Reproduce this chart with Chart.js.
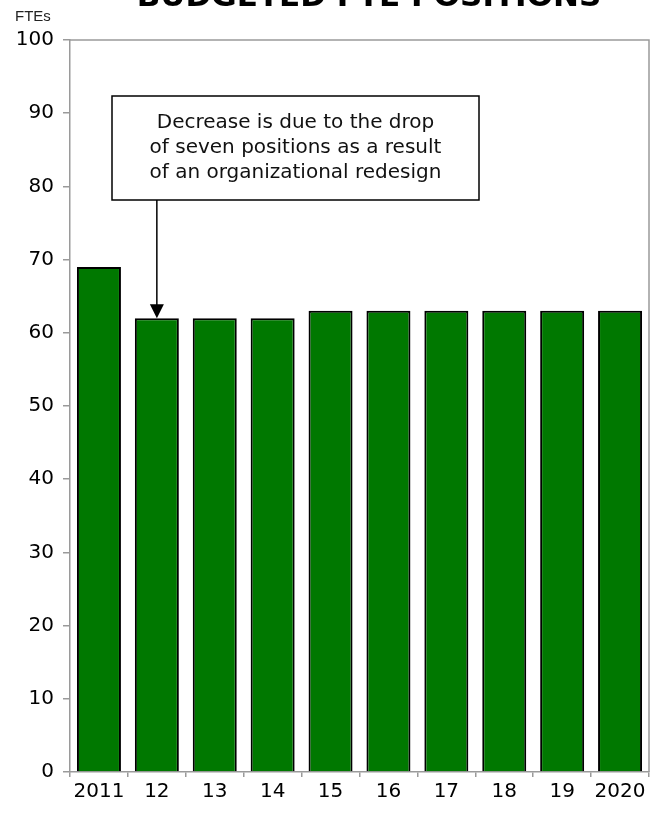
<!DOCTYPE html>
<html lang="en">
<head>
  <meta charset="UTF-8">
  <title>Budgeted FTE Positions</title>
  <script src="https://cdn.jsdelivr.net/npm/chart.js"></script>
  <style>
    html, body {
      margin: 0;
      padding: 0;
      background: #fff;
      overflow: hidden;
    }
    #wrap {
      width: 659px;
      height: 813px;
    }
  </style>
</head>
<body>
  <div id="wrap"><canvas id="chart" width="659" height="813"></canvas></div>

  <script>
    // chart data
    const years = ['2011', '12', '13', '14', '15', '16', '17', '18', '19', '2020'];
    const ftes = [69, 62, 62, 62, 63, 63, 63, 63, 63, 63];
    const yTicks = [0, 10, 20, 30, 40, 50, 60, 70, 80, 90, 100];
    const noteLines = ['Decrease is due to the drop', 'of seven positions as a result', 'of an organizational redesign'];
    const noteTarget = 1; // index of the bar the arrow points to

    const axisGrey = '#9a9a9a';
    const font = 'DejaVu Sans';

    // title (clipped at top), unit label, plot frame, callout box + arrow
    const extras = {
      id: 'extras',
      afterDraw(chart) {
        const c = chart.ctx;
        const a = chart.chartArea;
        const x = chart.scales.x, y = chart.scales.y;
        c.save();

        c.strokeStyle = axisGrey;
        c.lineWidth = 1.5;
        c.beginPath();
        c.moveTo(a.left, a.top);
        c.lineTo(a.right, a.top);
        c.lineTo(a.right, a.bottom);
        c.stroke();

        c.fillStyle = '#000';
        c.font = 'bold 31px "' + font + '"';
        c.textAlign = 'center';
        c.textBaseline = 'alphabetic';
        c.fillText('BUDGETED FTE POSITIONS', 369, 6);

        c.font = '15px "Liberation Sans"';
        c.textAlign = 'left';
        c.fillStyle = '#222';
        c.fillText('FTEs', 15, 21);

        // callout box
        const bx = 112, by = 96, bw = 367, bh = 104;
        c.fillStyle = '#fff';
        c.fillRect(bx, by, bw, bh);
        c.strokeStyle = '#000';
        c.lineWidth = 1.5;
        c.strokeRect(bx, by, bw, bh);
        c.fillStyle = '#111';
        c.font = '20px "' + font + '"';
        c.textAlign = 'center';
        c.textBaseline = 'middle';
        noteLines.forEach((t, i) => c.fillText(t, bx + bw / 2, 123 + i * 25));

        // arrow to the 2012 bar
        const ax = x.getPixelForValue(noteTarget);
        const ay = y.getPixelForValue(ftes[noteTarget]);
        c.beginPath();
        c.moveTo(ax, by + bh);
        c.lineTo(ax, ay - 12);
        c.stroke();
        c.fillStyle = '#000';
        c.beginPath();
        c.moveTo(ax - 7, ay - 14);
        c.lineTo(ax + 7, ay - 14);
        c.lineTo(ax, ay);
        c.closePath();
        c.fill();

        c.restore();
      }
    };

    const ctx = document.getElementById('chart').getContext('2d');
    const chart = new Chart(ctx, {
      type: 'bar',
      data: {
        labels: years,
        datasets: [{
          data: ftes,
          backgroundColor: '#007800',
          borderColor: '#000',
          borderWidth: 2,
          barPercentage: 0.76,
          categoryPercentage: 1.0
        }]
      },
      options: {
        responsive: false,
        animation: false,
        layout: { padding: { top: 40, right: 10, left: 0, bottom: 0 } },
        plugins: {
          legend: { display: false },
          tooltip: { enabled: false }
        },
        scales: {
          x: {
            offset: true,
            grid: {
              offset: true,
              drawOnChartArea: false,
              tickLength: 5,
              color: axisGrey,
              lineWidth: 1.5
            },
            border: { color: axisGrey, width: 1.5 },
            ticks: {
              color: '#000',
              font: { family: font, size: 20 },
              padding: 3,
              maxRotation: 0,
              autoSkip: false
            },
            afterFit(s) { s.height = 41; }
          },
          y: {
            min: 0,
            max: 100,
            afterBuildTicks(s) { s.ticks = yTicks.map(v => ({ value: v })); },
            grid: {
              drawOnChartArea: false,
              tickLength: 7,
              color: axisGrey,
              lineWidth: 1.5
            },
            border: { color: axisGrey, width: 1.5 },
            ticks: {
              color: '#000',
              font: { family: font, size: 20 },
              padding: 9
            },
            afterFit(s) { s.width = 70; }
          }
        }
      },
      plugins: [extras]
    });
  </script>
</body>
</html>
